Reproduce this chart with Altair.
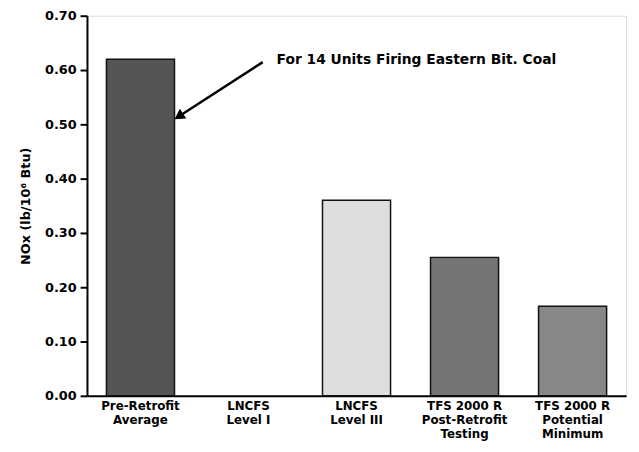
import altair as alt
import pandas as pd

categories = ["Pre-Retrofit|Average", "LNCFS|Level I", "LNCFS|Level III",
              "TFS 2000 R|Post-Retrofit|Testing", "TFS 2000 R|Potential|Minimum"]
values = [0.62, None, 0.36, 0.255, 0.165]
fills = ["#555555", "#ffffff", "#dedede", "#747474", "#878787"]

df = pd.DataFrame({"cat": categories, "nox": values, "fill": fills})

FONT = "DejaVu Sans"

x_enc = alt.X("cat:N", sort=categories,
              scale=alt.Scale(domain=categories, paddingInner=0.37, paddingOuter=0.18),
              axis=alt.Axis(title=None, labelAngle=0, labelExpr="split(datum.label, '|')",
                            labelFont=FONT, labelFontSize=12, labelFontWeight="bold",
                            labelColor="black", labelLineHeight=14, labelPadding=5,
                            ticks=False, domainColor="black", domainWidth=2))

bars = alt.Chart(df).mark_bar(stroke="#111111", strokeWidth=1.5).encode(
    x=x_enc,
    y=alt.Y("nox:Q", scale=alt.Scale(domain=[0, 0.7], nice=False),
            axis=alt.Axis(title="NOx (lb/10⁶ Btu)", values=[0, 0.1, 0.2, 0.3, 0.4, 0.5, 0.6, 0.7],
                          format=".2f", labelFont=FONT, labelFontSize=13, labelFontWeight="bold",
                          labelColor="black", titleFont=FONT, titleFontSize=13,
                          titleFontWeight="bold", titleColor="black", titlePadding=12,
                          tickColor="black", tickWidth=2, tickSize=7, domainColor="black",
                          domainWidth=2, grid=False, labelPadding=4)),
    fill=alt.Fill("fill:N", scale=None),
)

note_text = ["For 14 Units Firing Eastern Bit. Coal"]
note = alt.Chart(pd.DataFrame({"t": note_text})).mark_text(
    font=FONT, fontSize=14, fontWeight="bold", align="left", baseline="middle", color="black"
).encode(x=alt.value(192), y=alt.value(45), text="t:N")

arrow_line = alt.Chart(pd.DataFrame({"a": [0]})).mark_rule(color="black", strokeWidth=2.5).encode(
    x=alt.value(178), y=alt.value(47), x2=alt.value(96), y2=alt.value(100))

arrow_head = alt.Chart(pd.DataFrame({"a": [0]})).mark_point(
    shape="triangle-up", filled=True, color="black", size=140, angle=237, opacity=1
).encode(x=alt.value(93), y=alt.value(102))

chart = alt.layer(bars, note, arrow_line, arrow_head).properties(
    width=546, height=385,
    padding={"left": 80, "top": 5, "right": 5, "bottom": 50},
    autosize=alt.AutoSizeParams(type="none"),
).configure_view(stroke="black", strokeWidth=2).configure(background="white")

chart.save("out.html", embed_options={"renderer": "svg", "actions": False})
